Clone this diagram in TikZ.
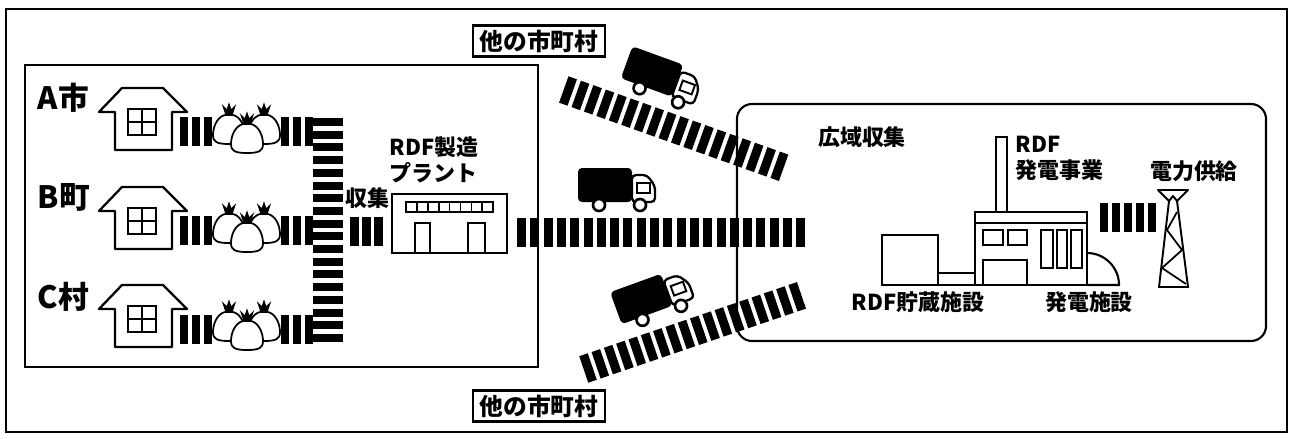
\documentclass[tikz,border=0pt]{standalone}
\usepackage{fontspec}
\newfontfamily\jpfont{Noto Sans CJK JP}
\begin{document}
\begin{tikzpicture}[x=0.02cm,y=-0.02cm, line width=1.1pt,
  lbl/.style={font=\jpfont\bfseries\fontsize{12.5}{14.8}\selectfont, inner sep=0pt},
  town/.style={font=\jpfont\bfseries\fontsize{17.5}{20}\selectfont, inner sep=0pt, anchor=west},
  tag/.style={draw, fill=white, line width=1.4pt, font=\jpfont\bfseries\fontsize{13.5}{16}\selectfont,
    minimum width=2.64cm, minimum height=0.62cm, inner sep=0pt},
  house/.pic={
    \draw[line width=1.3pt, line join=round] (-28,62) -- (-28,24) -- (-44,24) -- (-21,0) -- (20,0)
      -- (44,24) -- (29,24) -- (29,62) -- cycle;
    \draw[line width=1.2pt] (-15,21) rectangle (13,47) (-1,21) -- (-1,47) (-15,34) -- (13,34);
  },
  bag/.pic={
    \draw[fill=white, line width=1pt] (-4,-28) .. controls (-12,-26) and (-16,-16) .. (-16,-8)
      .. controls (-16,-1) and (-12,1) .. (0,1) .. controls (12,1) and (16,-1) .. (16,-8)
      .. controls (16,-16) and (12,-26) .. (4,-28) -- cycle;
    \draw[fill=black, line width=0.6pt] (-3,-28) -- (-6,-37) -- (-2,-33) -- (0,-39) -- (2,-33)
      -- (6,-37) -- (3,-28) -- cycle;
  },
  bags/.pic={
    \pic at (-18,-9) {bag};
    \pic at (17,-9) {bag};
    \pic at (0,0) {bag};
  },
  truck/.pic={
    \fill[rounded corners=0.08cm] (-38,-21) rectangle (16,13);
    \draw[fill=white, line width=1.3pt, rounded corners=0.08cm] (16,-14) -- (31,-14) -- (39,-3)
      -- (39,13) -- (16,13) -- cycle;
    \draw[line width=1.1pt] (21,-6) rectangle (34,4);
    \draw[fill=white, line width=1.5pt] (-17,16) circle (0.12cm) (24,16) circle (0.12cm);
  }]
\useasboundingbox (0,0) rectangle (1290,439);

% frames
\draw[line width=1.3pt] (6,9) rectangle (1287,432);
\draw[line width=1.2pt] (25,65) rectangle (538,367);
\draw[line width=1.2pt, rounded corners=0.3cm] (737,104) rectangle (1266,341);

% towns
\node[town] (cityA) at (37,98) {A市};
\node[town] (townB) at (37,197) {B町};
\node[town] (villC) at (37,297) {C村};
\foreach \y/\n in {88/a,187/b,285/c}
  \pic (home\n) at (143,\y) {house};
\foreach \y/\n in {152/a,251/b,349/c}
  \pic (trash\n) at (247,\y) {bags};

% collection lanes
\foreach \y in {117,216,315} {
  \foreach \x in {180,192,204,281,293,305}
    \fill (\x,\y) rectangle ++(8,29);
}
\foreach \i in {0,...,17}
  \fill (313,{118+\i*12.7}) rectangle ++(30,8);
\foreach \x in {350,362,374}
  \fill (\x,217) rectangle ++(9,29);
\node[lbl] (collect) at (367,198) {収集};

% RDF plant
\draw[line width=1.2pt] (392,194) rectangle (507,253);
\draw[line width=1pt] (406,202) rectangle (493,212);
\foreach \i in {1,...,7}
  \draw[line width=1pt] ({406+\i*10.9},202) -- ({406+\i*10.9},212);
\draw[line width=1.1pt] (415,253) -- (415,223) -- (430,223) -- (430,253)
  (468,253) -- (468,223) -- (485,223) -- (485,253);
\node[lbl, anchor=north west, align=left] (plant) at (389,136) {RDF製造\\プラント};

% transport to the power station
\foreach \i in {0,...,21}
  \fill ({517+\i*13.3},218) rectangle ++(9,29);
\begin{scope}[shift={(568,91)}, rotate=-19.6]
  \foreach \i in {0,...,17}
    \fill ({\i*13.2-4.5},-14) rectangle ++(9,28);
\end{scope}
\begin{scope}[shift={(588,368)}, rotate=18.8]
  \foreach \i in {0,...,17}
    \fill ({\i*13-4.5},-14) rectangle ++(9,28);
\end{scope}
\pic[rotate=-20] (truckN) at (661,79) {truck};
\pic (truckM) at (616,189) {truck};
\pic[rotate=20] (truckS) at (653,299) {truck};
\node[tag] (otherN) at (539,41) {他の市町村};
\node[tag] (otherS) at (539,406) {他の市町村};

% power station
\node[lbl] (wide) at (862,137) {広域収集};
\draw[line width=1.1pt] (996,212) -- (996,137) -- (1007,137) -- (1007,212);
\draw[line width=1.2pt] (882,285) rectangle (938,235);
\draw[line width=1.1pt] (938,273) rectangle (975,285);
\draw[line width=1.2pt] (975,212) rectangle (1087,285);
\draw[line width=1.1pt] (975,223) -- (1087,223);
\draw[line width=1.1pt] (983,230) rectangle (1003,245) (1008,230) rectangle (1027,245)
  (1041,230) rectangle (1053,268) (1057,230) rectangle (1067,268) (1071,230) rectangle (1082,268);
\draw[line width=1.1pt] (983,285) -- (983,260) -- (1027,260) -- (1027,285);
\draw[line width=1.2pt] (1087,253) .. controls (1104.7,253) and (1119,267.3) .. (1119,285) -- (1087,285);
\draw[line width=1.2pt] (882,285) -- (1119,285);
\node[lbl, anchor=north west, align=left] (rdfgen) at (1015,135) {RDF\\発電事業};
\node[lbl] (store) at (918,302) {RDF貯蔵施設};
\node[lbl] (genplant) at (1089,302) {発電施設};

% supply line and pylon
\foreach \x in {1100,1112,1124,1136,1148}
  \fill (\x,203) rectangle ++(8,29);
\draw[line width=1.1pt, line join=round] (1158,190) -- (1188,190) -- (1177,201) -- (1173,196) -- (1169,201) -- cycle;
\draw[line width=1.1pt] (1169,201) -- (1159,287) -- (1188,287) -- (1177,201);
\draw[line width=1pt] (1177,212) -- (1167,230) -- (1182,250) -- (1162,268) -- (1186,284);
\node[lbl] (supply) at (1194,171) {電力供給};
\end{tikzpicture}
\end{document}
